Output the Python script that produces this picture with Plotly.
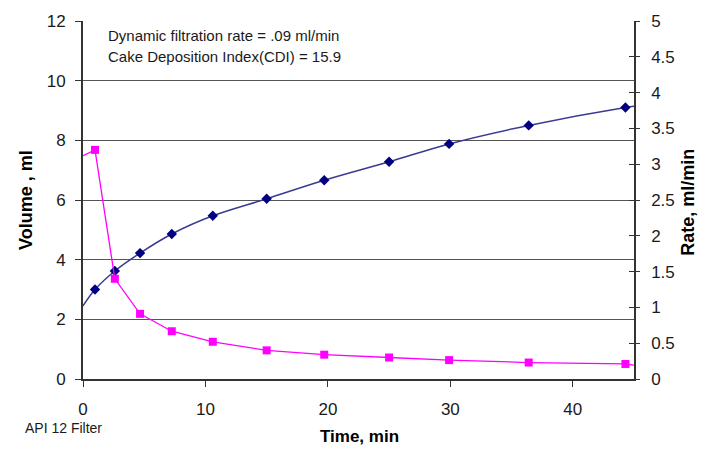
import plotly.graph_objects as go

# Data
time_min = [0.98, 2.6, 4.66, 7.25, 10.6, 15.0, 19.7, 25.0, 29.9, 36.4, 44.3]
volume_ml = [3.0, 3.62, 4.22, 4.86, 5.47, 6.04, 6.66, 7.28, 7.88, 8.5, 9.1]
rate_ml_min = [3.2, 1.4, 0.91, 0.667, 0.52, 0.40, 0.34, 0.30, 0.264, 0.23, 0.21]

# Drawn curves (include the ends that reach the plot edges)
vol_curve_t = [0.0] + time_min + [45.0]
vol_curve_v = [2.45] + volume_ml + [9.14]
rate_curve_t = [0.0] + time_min + [45.0]
rate_curve_v = [3.12] + rate_ml_min + [0.194]

x_ticks = [0, 10, 20, 30, 40]
y_ticks = [0, 2, 4, 6, 8, 10, 12]
y2_ticks = [0, 0.5, 1, 1.5, 2, 2.5, 3, 3.5, 4, 4.5, 5]
y2_labels = ["0", "0.5", "1", "1.5", "2", "2.5", "3", "3.5", "4", "4.5", "5"]

NAVY = "#000080"
NAVY_LINE = "#3a3a92"
MAGENTA = "#FF00FF"
TXT = "#1a1a1a"
FONT = "Liberation Sans, Arial, sans-serif"

fig = go.Figure()

fig.add_trace(go.Scatter(x=vol_curve_t, y=vol_curve_v, mode="lines",
                         line=dict(color=NAVY_LINE, width=1.5, shape="spline"),
                         hoverinfo="skip", showlegend=False))
fig.add_trace(go.Scatter(x=time_min, y=volume_ml, mode="markers",
                         marker=dict(symbol="diamond", size=8, color=NAVY),
                         showlegend=False, name="Volume"))
fig.add_trace(go.Scatter(x=rate_curve_t, y=rate_curve_v, mode="lines",
                         line=dict(color=MAGENTA, width=1.3),
                         hoverinfo="skip", showlegend=False, yaxis="y2"))
fig.add_trace(go.Scatter(x=time_min, y=rate_ml_min, mode="markers",
                         marker=dict(symbol="square", size=8, color=MAGENTA),
                         showlegend=False, name="Rate", yaxis="y2"))
# invisible trace on the inside-tick axis so it is rendered
fig.add_trace(go.Scatter(x=[None], y=[None], yaxis="y3", showlegend=False,
                         hoverinfo="skip"))

fig.update_layout(
    width=707, height=449,
    margin=dict(l=83, r=73, t=19, b=70),
    paper_bgcolor="white", plot_bgcolor="white",
    font=dict(family=FONT, color=TXT),
    xaxis=dict(range=[0, 45], tickvals=x_ticks, ticks="outside", ticklen=6,
               tickcolor="#333", showgrid=False, zeroline=False,
               showline=True, linecolor="#333", linewidth=1.5,
               tickfont=dict(size=17, color=TXT), ticklabelstandoff=8),
    yaxis=dict(range=[0, 12], tickvals=y_ticks, ticks="outside", ticklen=6,
               tickcolor="#333", showgrid=True, gridcolor="#555", gridwidth=1,
               zeroline=False, showline=True, linecolor="#333", linewidth=2,
               tickfont=dict(size=17, color=TXT), ticklabelstandoff=6),
    yaxis2=dict(range=[0, 5], tickvals=y2_ticks, ticktext=y2_labels,
                overlaying="y", side="right", ticks="outside", ticklen=4,
                tickcolor="#333", showgrid=False, zeroline=False,
                showline=True, linecolor="#333", linewidth=1.5,
                tickfont=dict(size=17, color=TXT), ticklabelstandoff=8),
    yaxis3=dict(range=[0, 5], tickvals=y2_ticks, overlaying="y", side="right",
                ticks="inside", ticklen=5, tickcolor="#333",
                showticklabels=False, showgrid=False, zeroline=False,
                showline=False),
    annotations=[
        dict(text="Dynamic filtration rate = .09 ml/min", x=1.9, y=11.5,
             xref="x", yref="y", xanchor="left", yanchor="middle",
             showarrow=False, font=dict(size=15, color=TXT)),
        dict(text="Cake Deposition Index(CDI) = 15.9", x=1.9, y=10.8,
             xref="x", yref="y", xanchor="left", yanchor="middle",
             showarrow=False, font=dict(size=15, color=TXT)),
        dict(text="<b>Volume , ml</b>", x=-0.1034, y=0.5, xref="paper",
             yref="paper", textangle=-90, showarrow=False,
             xanchor="center", yanchor="middle",
             font=dict(size=18, color="#000")),
        dict(text="<b>Rate, ml/min</b>", x=1.098, y=0.495, xref="paper",
             yref="paper", textangle=-90, showarrow=False,
             xanchor="center", yanchor="middle",
             font=dict(size=18, color="#000")),
        dict(text="<b>Time, min</b>", x=0.501, y=-0.161, xref="paper",
             yref="paper", showarrow=False, xanchor="center",
             yanchor="middle", font=dict(size=17, color="#000")),
        dict(text="API 12 Filter", x=-0.0345, y=-0.137, xref="paper",
             yref="paper", showarrow=False, xanchor="center",
             yanchor="middle", font=dict(size=14, color=TXT)),
    ],
)

fig.write_html("out.html",
               config={"displayModeBar": False},
               post_script="document.body.style.margin='0';"
                           "document.body.style.padding='0';")
